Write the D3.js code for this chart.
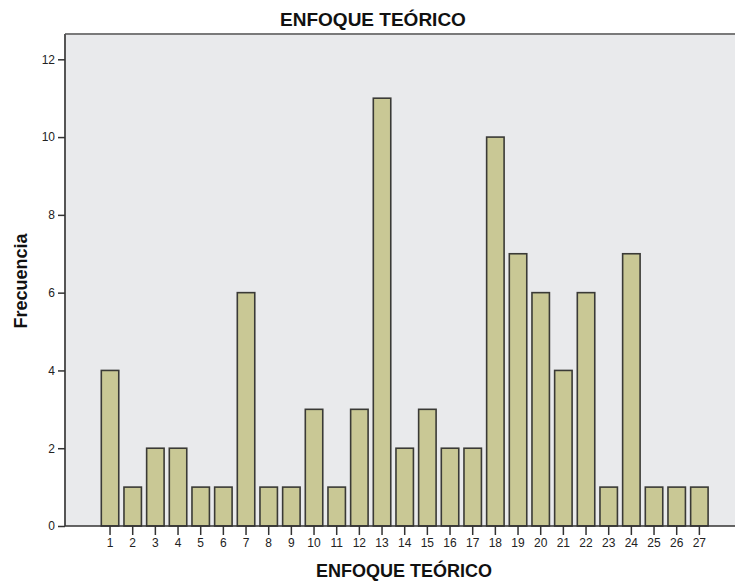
<!DOCTYPE html>
<html>
<head>
<meta charset="utf-8">
<script src="https://cdn.jsdelivr.net/npm/d3@7"></script>
<style>
  body { margin: 0; background: #fff; }
  svg { display: block; font-family: Arial, "Liberation Sans", sans-serif; }
</style>
</head>
<body>
<div id="chart"></div>
<script>
// data
const categories = d3.range(1, 28).map(String);
const frecuencia = [4, 1, 2, 2, 1, 1, 6, 1, 1, 3, 1, 3, 11, 2, 3, 2, 2, 10, 7, 6, 4, 6, 1, 7, 1, 1, 1];
const yTicks = [0, 2, 4, 6, 8, 10, 12];

const width = 735, height = 582;
const plot = { left: 65, top: 34, right: 737, bottom: 526 };

const svg = d3.select("#chart").append("svg")
    .attr("width", width)
    .attr("height", height);

// frame background
svg.append("rect")
    .attr("x", plot.left).attr("y", plot.top)
    .attr("width", plot.right - plot.left)
    .attr("height", plot.bottom - plot.top)
    .attr("fill", "#e9eaec");

const x = d3.scaleBand()
    .domain(categories)
    .range([98.7, 710.7])
    .paddingInner(0.23)
    .paddingOuter(0.115);

const y = d3.scaleLinear()
    .domain([0, 12])
    .range([plot.bottom, 59.3]);

// bars
svg.append("g")
  .selectAll("rect")
  .data(frecuencia)
  .join("rect")
    .attr("x", (d, i) => x(categories[i]))
    .attr("y", d => y(d))
    .attr("width", x.bandwidth())
    .attr("height", d => y(0) - y(d))
    .attr("fill", "#c9c895")
    .attr("stroke", "#3a3a36")
    .attr("stroke-width", 1.6);

// frame lines (top, left)
svg.append("line")
    .attr("x1", plot.left).attr("x2", plot.right)
    .attr("y1", plot.top).attr("y2", plot.top)
    .attr("stroke", "#7a7a7a").attr("stroke-width", 2);

// y axis
const yAxis = svg.append("g")
    .attr("transform", `translate(${plot.left},0)`)
    .call(d3.axisLeft(y).tickValues(yTicks).tickSize(7).tickPadding(3));
yAxis.select(".domain").attr("d", `M0,${plot.top}V${plot.bottom}`)
    .attr("stroke", "#555").attr("stroke-width", 2);
yAxis.selectAll(".tick line").attr("stroke", "#333").attr("stroke-width", 1.5);
yAxis.selectAll(".tick text").attr("font-size", 12).attr("fill", "#222")
    .attr("font-family", "Arial, 'Liberation Sans', sans-serif");

// x axis
const xAxis = svg.append("g")
    .attr("transform", `translate(0,${plot.bottom})`)
    .call(d3.axisBottom(x).tickSize(9).tickPadding(3));
xAxis.select(".domain").attr("d", `M${plot.left},0H${plot.right}`)
    .attr("stroke", "#333").attr("stroke-width", 1.6);
xAxis.selectAll(".tick line").attr("stroke", "#333").attr("stroke-width", 1.5);
xAxis.selectAll(".tick text").attr("font-size", 12).attr("fill", "#222")
    .attr("font-family", "Arial, 'Liberation Sans', sans-serif");

// title and axis labels
svg.append("text")
    .attr("x", 373).attr("y", 26)
    .attr("text-anchor", "middle")
    .attr("font-size", 19).attr("font-weight", "bold").attr("fill", "#111")
    .text("ENFOQUE TEÓRICO");

svg.append("text")
    .attr("x", 404).attr("y", 577)
    .attr("text-anchor", "middle")
    .attr("font-size", 18).attr("font-weight", "bold").attr("fill", "#111")
    .text("ENFOQUE TEÓRICO");

svg.append("text")
    .attr("transform", "translate(27,281) rotate(-90)")
    .attr("text-anchor", "middle")
    .attr("font-size", 18).attr("font-weight", "bold").attr("fill", "#111")
    .text("Frecuencia");
</script>
</body>
</html>
